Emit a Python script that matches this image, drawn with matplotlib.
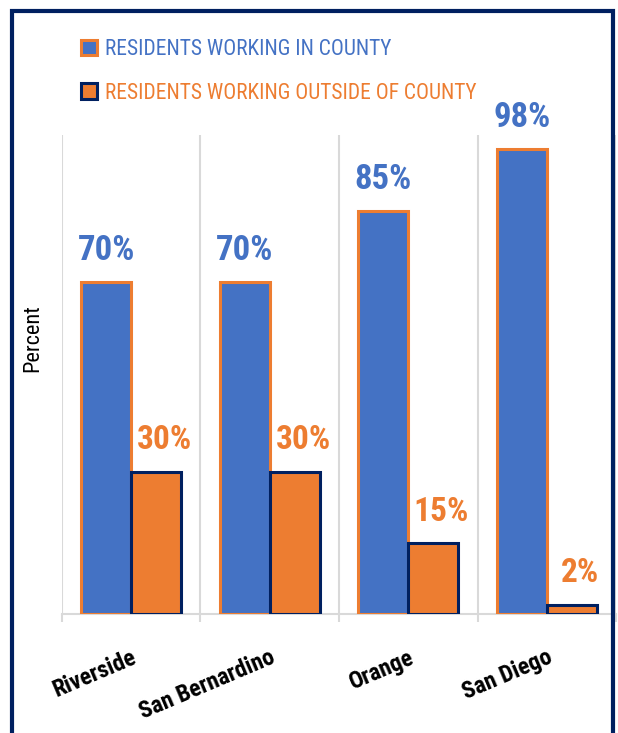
import numpy as np
import matplotlib.pyplot as plt
from matplotlib.patches import Rectangle

counties = ['Riverside', 'San Bernardino', 'Orange', 'San Diego']
in_county = [70, 70, 85, 98]
outside_county = [30, 30, 15, 2]

blue = '#4472C4'
orange = '#ED7D31'
navy = '#002060'
grid_gray = '#D9D9D9'

plt.rcParams['font.family'] = ['DejaVu Sans Condensed', 'Roboto Condensed', 'DejaVu Sans']
plt.rcParams['font.stretch'] = 'condensed'

fig = plt.figure(figsize=(6.18, 7.33), dpi=100)
ax = fig.add_axes([0.1003, 0.1623, 0.8965, 0.6535])

x = np.arange(len(counties))
w = 0.36
b1 = ax.bar(x - w / 2, in_county, w, color=blue, edgecolor=orange, linewidth=2.2,
            label='RESIDENTS WORKING IN COUNTY', zorder=3)
b2 = ax.bar(x + w / 2, outside_county, w, color=orange, edgecolor=navy, linewidth=2.2,
            label='RESIDENTS WORKING OUTSIDE OF COUNTY', zorder=3)

ax.bar_label(b1, labels=['{}%'.format(v) for v in in_county], padding=11,
             color=blue, fontsize=25, fontweight='bold')
lbl2 = ax.bar_label(b2, labels=['{}%'.format(v) for v in outside_county], padding=11,
                    color=orange, fontsize=24, fontweight='bold')
# orange labels sit a little right of the bar centre
for t in lbl2:
    t.xyann = (6, 11)

ax.set_xlim(-0.5, 3.5)
ax.set_ylim(0, 101)
ax.set_yticks([])
for s in ['left', 'right', 'top']:
    ax.spines[s].set_visible(False)
ax.spines['bottom'].set_color(grid_gray)
ax.spines['bottom'].set_linewidth(1.5)
ax.spines['bottom'].set_zorder(2)

ax.set_xticks(x)
ax.set_xticklabels(counties, rotation=23, ha='right', va='top', rotation_mode='anchor',
                   fontsize=17, fontweight='bold', color='black')
ax.tick_params(axis='x', which='major', length=0, pad=23)
ax.set_xticks(np.arange(-0.5, 4, 1), minor=True)
ax.tick_params(axis='x', which='minor', length=6, width=1.5, color=grid_gray)
ax.grid(axis='x', which='minor', color=grid_gray, linewidth=1.5, zorder=0)

fig.text(33 / 618, 1 - 338 / 733, 'Percent', rotation=90, ha='center', va='center',
         fontsize=16, color='black')

leg = fig.legend(handles=[b1, b2], loc='upper left', bbox_to_anchor=(81 / 618, 1 - 39 / 733),
                 frameon=False, fontsize=15.5, handlelength=0.75, handleheight=0.75,
                 handletextpad=0.35, labelspacing=1.05, borderpad=0, borderaxespad=0)
for t, c in zip(leg.get_texts(), [blue, orange]):
    t.set_color(c)

fig.patches.append(Rectangle((12 / 618, -0.05), (613 - 12) / 618, 1.05 - 11 / 733,
                             transform=fig.transFigure, fill=False, edgecolor=navy,
                             linewidth=3, zorder=10))

fig.savefig('out.png', dpi=100)
